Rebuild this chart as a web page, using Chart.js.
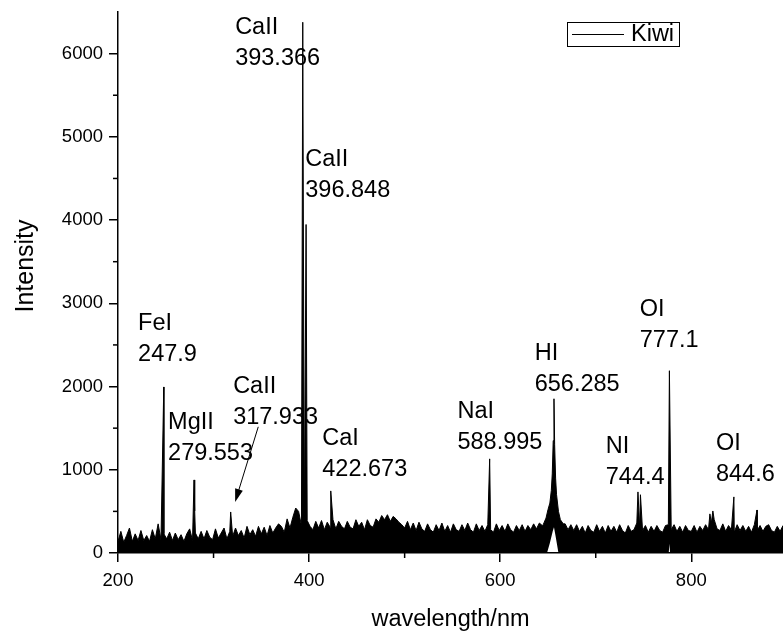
<!DOCTYPE html>
<html>
<head>
<meta charset="utf-8">
<script src="https://cdn.jsdelivr.net/npm/chart.js@4.4.0/dist/chart.umd.min.js"></script>
<style>
  html, body { margin: 0; padding: 0; background: #fff; }
  #wrap { width: 783px; height: 632px; }
</style>
</head>
<body>
<div id="wrap"><canvas id="spectrum" width="783" height="632"></canvas></div>
<script>
// --- valores ---
// borde superior del ruido, una muestra cada 3 nm desde 200 nm (null = zona del pico HI)
const noiseStart = 200;
const noiseStep = 3;
const noiseTop = [
    140, 260, 130, 210, 300, 140, 230, 150, 270, 150,
    210, 140, 280, 170, 350, 160, 230, 170, 250, 150,
    240, 160, 220, 140, 230, 290, 150, 240, 170, 260,
    170, 270, 190, 160, 290, 180, 240, 300, 170, 260,
    200, 300, 210, 270, 180, 320, 220, 280, 200, 320,
    230, 310, 210, 330, 240, 300, 350, 320, 250, 410,
    300, 430, 540, 500, 330, 290, 390, 320, 280, 380,
    300, 390, 280, 370, 310, 400, 290, 380, 320, 290,
    380, 310, 290, 400, 320, 370, 280, 400, 330, 310,
    410, 370, 450, 400, 460, 380, 440, 410, 370, 340,
    300, 380, 280, 360, 270, 370, 290, 260, 350, 280,
    250, 340, 270, 360, 260, 330, 250, 350, 280, 260,
    340, 270, 360, 280, 250, 350, 270, 330, 260, 340,
    280, 250, 350, 270, 330, 260, 350, 280, 250, 330,
    270, 340, 260, 330, 280, 350, 290, 360, 330, null,
    null, null, null, null, null, null, 350, 280, 340, 270,
    340, 260, 320, 240, 330, 270, 250, 340, 260, 320,
    240, 330, 260, 320, 250, 340, 270, 240, 330, 260,
    280, 360, 300, 270, 330, 250, 320, 260, 330, 270,
    250, 330, 340, 280, 340, 260, 320, 250, 330, 270,
    260, 330, 250, 320, 270, 340, 280, 360, 400, 290,
    270, 350, 260, 330, 280, 250, 340, 270, 330, 260,
    320, 250, 340, 270, 330, 260, 320, 340, 270, 250,
    320, 260, 330
];

// líneas de emisión estrechas
const lineWl  = [247.9, 279.553, 280.27, 317.933, 393.366, 396.848, 422.673, 588.995, 744.2, 746.8, 777.1, 819.5, 822.6, 844.6, 868.8];
const lineInt = [1995, 878, 505, 493, 6377, 3947, 746, 1131, 734, 700, 2190, 470, 505, 674, 517];

// perfil ancho de HI 656.285
const hiWl  = [645, 648, 650, 652, 653.5, 654.5, 655.5, 656.3, 657, 658, 659, 661, 663, 666];
const hiInt = [340, 420, 520, 600, 750, 950, 1350, 1853, 1300, 900, 700, 500, 400, 350];

// borde inferior del ruido (hueco blanco bajo HI y OI)
const floorWl  = [200, 649, 652, 655, 656.3, 658, 661, 776.4, 777.1, 777.8, 896];
const floorInt = [0, 0, 120, 260, 310, 200, 0, 0, 110, 0, 0];

const xTicks = [200, 400, 600, 800];
const xMinor = [300, 500, 700];
const yTicks = [0, 1000, 2000, 3000, 4000, 5000, 6000];
const yMinor = [500, 1500, 2500, 3500, 4500, 5500];

const peakNames = ['CaII', 'CaII', 'FeI', 'MgII', 'CaII', 'CaI', 'NaI', 'HI', 'NI', 'OI', 'OI'];
const peakText  = ['393.366', '396.848', '247.9', '279.553', '317.933', '422.673', '588.995', '656.285', '744.4', '777.1', '844.6'];
// anclaje de cada etiqueta (esquina izq., línea base del nombre) en unidades de datos
const labelWl  = [322.6, 396.0, 221.0, 252.4, 320.5, 413.8, 555.3, 636.1, 710.5, 746.1, 825.8];
const labelInt = [6233, 4645, 2684, 1492, 1925, 1300, 1625, 2323, 1203, 2852, 1239];

// flecha hacia CaII 317.933
const arrowFrom = { x: 346.8, y: 1516 };
const arrowTo   = { x: 322.6, y: 614 };

// --- puntos ---
const upperPts = [];
noiseTop.forEach(function(v, i) {
    if (v !== null) upperPts.push({ x: noiseStart + i * noiseStep, y: v });
});
lineWl.forEach(function(w, i) { upperPts.push({ x: w, y: lineInt[i] }); });
hiWl.forEach(function(w, i) { upperPts.push({ x: w, y: hiInt[i] }); });
upperPts.sort(function(a, b) { return a.x - b.x; });

const floorPts = floorWl.map(function(w, i) { return { x: w, y: floorInt[i] }; });

const FONT = '"Liberation Sans", Arial, sans-serif';

// --- etiquetas, flecha, leyenda, títulos y ticks menores ---
const overlay = {
    id: 'overlay',
    afterDraw(chart) {
        const ctx = chart.ctx;
        const ca = chart.chartArea;
        const x = chart.scales.x, y = chart.scales.y;
        ctx.save();
        ctx.strokeStyle = '#000';
        ctx.fillStyle = '#000';

        // ticks menores
        ctx.lineWidth = 1.5;
        xMinor.forEach(function(v) {
            const px = x.getPixelForValue(v);
            ctx.beginPath(); ctx.moveTo(px, ca.bottom); ctx.lineTo(px, ca.bottom + 5); ctx.stroke();
        });
        yMinor.forEach(function(v) {
            const py = y.getPixelForValue(v);
            ctx.beginPath(); ctx.moveTo(ca.left, py); ctx.lineTo(ca.left - 5, py); ctx.stroke();
        });

        // etiquetas de picos
        ctx.font = '23.5px ' + FONT;
        ctx.textAlign = 'left';
        ctx.textBaseline = 'alphabetic';
        peakNames.forEach(function(name, i) {
            const px = x.getPixelForValue(labelWl[i]);
            const py = y.getPixelForValue(labelInt[i]);
            ctx.fillText(name, px, py);
            ctx.fillText(peakText[i], px, py + 31);
        });

        // flecha
        const ax0 = x.getPixelForValue(arrowFrom.x), ay0 = y.getPixelForValue(arrowFrom.y);
        const ax1 = x.getPixelForValue(arrowTo.x), ay1 = y.getPixelForValue(arrowTo.y);
        const ang = Math.atan2(ay1 - ay0, ax1 - ax0);
        ctx.lineWidth = 1;
        ctx.beginPath(); ctx.moveTo(ax0, ay0); ctx.lineTo(ax1 - 10 * Math.cos(ang), ay1 - 10 * Math.sin(ang)); ctx.stroke();
        ctx.beginPath();
        ctx.moveTo(ax1, ay1);
        ctx.lineTo(ax1 - 13 * Math.cos(ang) + 4 * Math.sin(ang), ay1 - 13 * Math.sin(ang) - 4 * Math.cos(ang));
        ctx.lineTo(ax1 - 13 * Math.cos(ang) - 4 * Math.sin(ang), ay1 - 13 * Math.sin(ang) + 4 * Math.cos(ang));
        ctx.closePath();
        ctx.fill();

        // leyenda
        const lx = ca.right - 216, ly = ca.top + 10, lw = 112, lh = 24;
        ctx.lineWidth = 1;
        ctx.strokeRect(lx + 0.5, ly + 0.5, lw, lh);
        ctx.beginPath(); ctx.moveTo(lx + 5, ly + lh / 2 + 0.5); ctx.lineTo(lx + 57, ly + lh / 2 + 0.5); ctx.stroke();
        ctx.textBaseline = 'middle';
        ctx.fillText(chart.data.datasets[1].label, lx + 64, ly + lh / 2 + 1);

        // títulos de ejes
        ctx.textAlign = 'center';
        ctx.textBaseline = 'alphabetic';
        ctx.font = '23.5px ' + FONT;
        ctx.fillText('wavelength/nm', (ca.left + ca.right) / 2, 626);
        ctx.save();
        ctx.translate(33, 266);
        ctx.rotate(-Math.PI / 2);
        ctx.font = '25px ' + FONT;
        ctx.fillText('Intensity', 0, 0);
        ctx.restore();

        ctx.restore();
    }
};

new Chart(document.getElementById('spectrum'), {
    type: 'line',
    data: {
        datasets: [{
            label: 'floor',
            data: floorPts,
            borderColor: 'rgba(0,0,0,0)',
            backgroundColor: 'rgba(0,0,0,0)',
            pointRadius: 0,
            fill: false
        }, {
            label: 'Kiwi',
            data: upperPts,
            borderColor: '#000',
            borderWidth: 1,
            backgroundColor: '#000',
            pointRadius: 0,
            tension: 0,
            fill: '-1'
        }]
    },
    options: {
        responsive: false,
        animation: false,
        layout: { padding: { top: 12, right: 0, left: 0, bottom: 0 } },
        plugins: {
            legend: { display: false },
            tooltip: { enabled: false }
        },
        scales: {
            x: {
                type: 'linear',
                min: 200,
                max: 896,
                afterBuildTicks: function(s) { s.ticks = xTicks.map(function(v) { return { value: v }; }); },
                afterFit: function(s) { s.height = 79; },
                grid: { drawOnChartArea: false, drawTicks: true, tickLength: 9, color: '#000', lineWidth: 1.5 },
                border: { display: true, color: '#000', width: 1.5 },
                ticks: { color: '#000', font: { family: FONT, size: 18.5 }, padding: 8, autoSkip: false, maxRotation: 0,
                         callback: function(v) { return String(v); } }
            },
            y: {
                min: 0,
                max: 6500,
                afterBuildTicks: function(s) { s.ticks = yTicks.map(function(v) { return { value: v }; }); },
                afterFit: function(s) { s.width = 118; s.paddingTop = 0; s.paddingBottom = 0; },
                grid: { drawOnChartArea: false, drawTicks: true, tickLength: 9, color: '#000', lineWidth: 1.5 },
                border: { display: true, color: '#000', width: 1.5 },
                ticks: { color: '#000', font: { family: FONT, size: 18.5 }, padding: 6, autoSkip: false,
                         callback: function(v) { return String(v); } }
            }
        }
    },
    plugins: [overlay]
});
</script>
</body>
</html>
